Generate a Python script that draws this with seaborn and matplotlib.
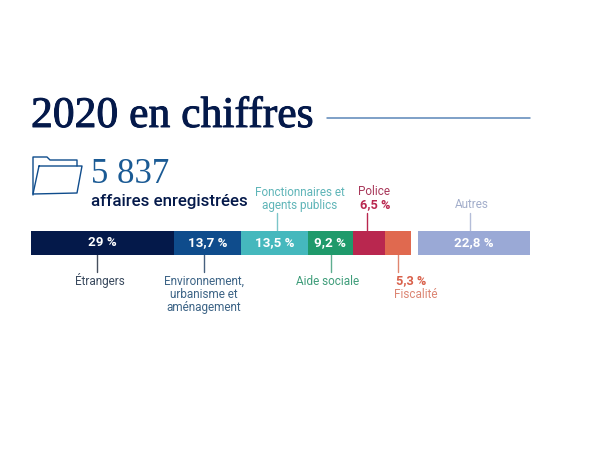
import numpy as np
import pandas as pd
import matplotlib
matplotlib.use("Agg")
import matplotlib.pyplot as plt
import matplotlib.patheffects as pe
import seaborn as sns

# values of the stacked bar, in percent
categories = ["Étrangers", "Environnement", "Fonctionnaires", "Aide sociale", "Police", "Fiscalité", "Autres"]
shares = [29, 13.7, 13.5, 9.2, 6.5, 5.3, 22.8]
share_labels = ["29 %", "13,7 %", "13,5 %", "9,2 %", "", "", "22,8 %"]
colors = ["#04194a", "#0f4c8c", "#45b8bd", "#1f9a6b", "#b9274f", "#e0694f", "#9aa9d6"]
gaps = [0, 0, 0, 0, 0, 0, 1.4]

sns.set_theme(style="white")
plt.rcParams["font.family"] = ["Roboto", "DejaVu Sans"]

W, H = 600, 450
fig = plt.figure(figsize=(W / 100, H / 100), dpi=100, facecolor="white")

# overlay in pixel coords for the text and leader lines
over = fig.add_axes([0, 0, 1, 1])
over.set_xlim(0, W)
over.set_ylim(H, 0)
over.axis("off")

# the bar itself
ax = fig.add_axes([31 / W, 1 - 254.5 / H, 499 / W, 24 / H])
df = pd.DataFrame({"cat": categories, "share": shares})
df["left"] = df["share"].cumsum().shift(fill_value=0) + np.cumsum(gaps)
for i, row in df.iterrows():
    sns.barplot(x=[row["share"]], y=["total"], left=row["left"], color=colors[i],
                saturation=1, width=1, orient="h", linewidth=0, ax=ax)
    if share_labels[i]:
        ax.text(row["left"] + row["share"] / 2, 0, share_labels[i], color="white", ha="center",
                va="center", fontsize=9.6, fontweight="bold")
ax.set_xlim(0, 101.4)
ax.set_ylim(0.5, -0.5)
ax.axis("off")

# title
title = over.text(31, 127, "2020 en chiffres", family="Liberation Serif", fontsize=31.4, color="#04194a",
                  va="baseline")
title.set_path_effects([pe.withStroke(linewidth=0.7, foreground="#04194a")])
over.plot([327, 530], [118, 118], color="#5b86b8", lw=1.1)

# folder icon
over.plot([33, 33, 47, 50, 77, 77], [195, 157, 157, 160, 160, 166], color="#0f4c8c", lw=1)
over.plot([39, 82, 77, 33, 39], [166, 166, 193, 194, 166], color="#0f4c8c", lw=1)

over.text(91, 183, "5 837", family="Liberation Serif", fontsize=25, color="#1a5a94", va="baseline")
over.text(91, 206, "affaires enregistrées", fontsize=12.2, color="#04194a", fontweight="medium", va="baseline")

# labels around the bar
lab = dict(ha="center", va="baseline", fontsize=8.5, linespacing=1.15)
bold = dict(ha="center", va="baseline", fontsize=9.2, fontweight="bold")
over.text(100, 285, "Étrangers", color="#3a4a5e", **lab)
over.text(204, 285, "Environnement,", color="#3d6486", **lab)
over.text(204, 298, "urbanisme et", color="#3d6486", **lab)
over.text(204, 311, "aménagement", color="#3d6486", **lab)
over.text(300, 196, "Fonctionnaires et", color="#5fb5b8", **lab)
over.text(300, 209, "agents publics", color="#5fb5b8", **lab)
over.text(328, 285, "Aide sociale", color="#3f9d7a", **lab)
over.text(374, 195, "Police", color="#a8385a", **lab)
over.text(375, 208, "6,5 %", color="#b9274f", **bold)
over.text(411, 284, "5,3 %", color="#d9604a", **bold)
over.text(416, 298, "Fiscalité", color="#dc8573", **lab)
over.text(472, 208, "Autres", color="#a3aecb", **lab)

# leader lines
leaders = [(97, 254, 272, "#46505e"), (204, 254, 272, "#46607e"), (277, 213, 231, "#7cc6c9"),
           (331, 254, 272, "#5fae90"), (367, 213, 231, "#b9274f"), (398, 254, 272, "#e0856f"),
           (470, 213, 231, "#b4bdd8")]
for x, y0, y1, c in leaders:
    over.plot([x, x], [y0, y1], color=c, lw=1)

fig.savefig("out.png", dpi=100, facecolor="white")
